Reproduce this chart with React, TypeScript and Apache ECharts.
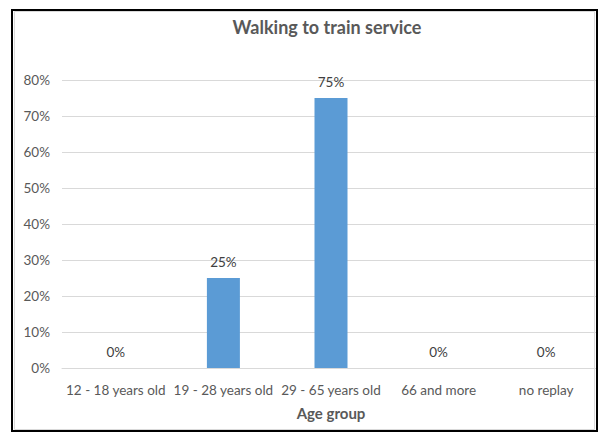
import React, { useEffect, useRef } from "react";
import * as echarts from "echarts";

const categories = ["12 - 18 years old", "19 - 28 years old", "29 - 65 years old", "66 and more", "no replay"];
const values = [0, 25, 75, 0, 0];
const yTicks = { min: 0, max: 80, interval: 10 };
const titleText = "Walking to train service";
const xAxisTitle = "Age group";

const FONT = "Lato";

export default function App() {
  const ref = useRef<HTMLDivElement>(null);
  useEffect(() => {
    if (!ref.current) return;
    const chart = echarts.init(ref.current, null, { renderer: "svg" });
    chart.setOption({
      animation: false,
      backgroundColor: "#ffffff",
      textStyle: { fontFamily: FONT },
      title: {
        text: titleText,
        left: 327,
        textAlign: "center",
        top: 18,
        padding: 0,
        textStyle: { fontFamily: FONT, fontSize: 18, fontWeight: "bold", color: "#595959" },
      },
      grid: { left: 62, right: 0, top: 80, bottom: 65, containLabel: false },
      xAxis: {
        type: "category",
        data: categories,
        axisLine: { show: true, lineStyle: { color: "#d9d9d9", width: 1 } },
        axisTick: { show: false },
        axisLabel: { color: "#595959", fontSize: 13.5, fontFamily: FONT, margin: 15, interval: 0 },
        name: xAxisTitle,
        nameLocation: "middle",
        nameGap: 37,
        nameTextStyle: { color: "#595959", fontSize: 15, fontWeight: "bold", fontFamily: FONT },
      },
      yAxis: {
        type: "value",
        min: yTicks.min,
        max: yTicks.max,
        interval: yTicks.interval,
        axisLine: { show: false },
        axisTick: { show: false },
        axisLabel: { color: "#595959", fontSize: 13.5, fontFamily: FONT, margin: 12, formatter: "{value}%" },
        splitLine: { lineStyle: { color: "#d9d9d9", width: 1 } },
      },
      series: [
        {
          type: "bar",
          data: values,
          barWidth: 33,
          itemStyle: { color: "#5b9bd5" },
          label: {
            show: true,
            position: "top",
            distance: 9,
            formatter: "{c}%",
            color: "#404040",
            fontSize: 13.5,
            fontFamily: FONT,
          },
        },
      ],
      graphic: [
        { type: "rect", z: 100, shape: { x: 597, y: 0, width: 10, height: 433 }, style: { fill: "#ffffff" } },
        { type: "rect", z: 101, shape: { x: 14.5, y: 11.5, width: 580, height: 418 }, style: { fill: "none", stroke: "#d9d9d9", lineWidth: 1 } },
        { type: "rect", z: 102, shape: { x: 12, y: 10, width: 585, height: 421 }, style: { fill: "none", stroke: "#000000", lineWidth: 2 } },
      ],
    });
    return () => chart.dispose();
  }, []);
  return <div ref={ref} style={{ position: "fixed", left: 0, top: 0, width: 600, height: 433 }} />;
}
